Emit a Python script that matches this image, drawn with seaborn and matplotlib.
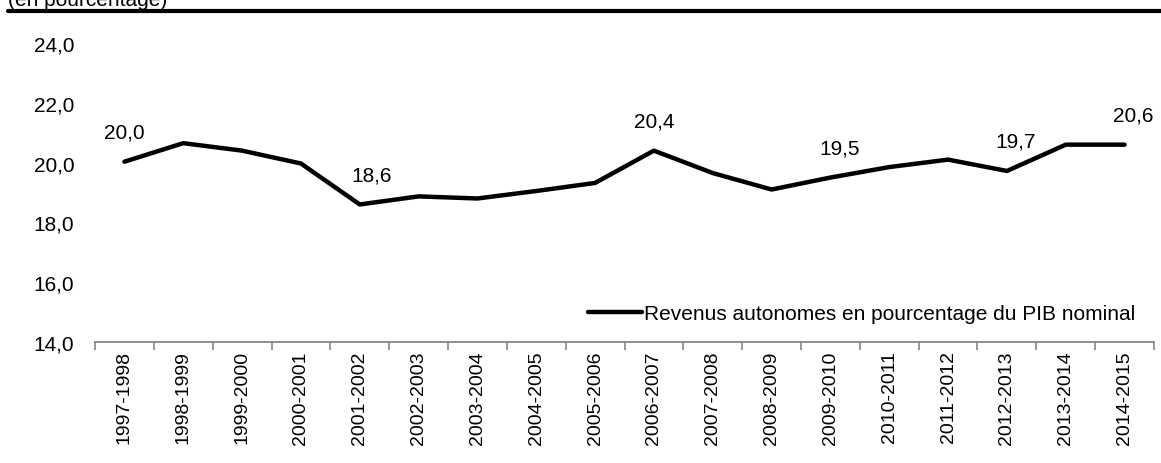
import numpy as np
import pandas as pd
import matplotlib
matplotlib.use("Agg")
import matplotlib.pyplot as plt
import seaborn as sns

years = ["1997-1998", "1998-1999", "1999-2000", "2000-2001", "2001-2002", "2002-2003",
         "2003-2004", "2004-2005", "2005-2006", "2006-2007", "2007-2008", "2008-2009",
         "2009-2010", "2010-2011", "2011-2012", "2012-2013", "2013-2014", "2014-2015"]
revenus = [20.03, 20.65, 20.4, 19.97, 18.6, 18.87, 18.8, 19.05, 19.32, 20.4, 19.65, 19.1,
           19.5, 19.85, 20.1, 19.72, 20.6, 20.6]
labelled = [0, 4, 9, 12, 15, 17]
serie = "Revenus autonomes en pourcentage du PIB nominal"

df = pd.DataFrame({"Année": years, "Valeur": revenus})

sns.set_style("white", {"text.color": "black", "axes.labelcolor": "black",
                        "xtick.color": "black", "ytick.color": "black",
                        "xtick.bottom": True})
plt.rcParams["font.family"] = ["Liberation Sans", "DejaVu Sans"]

fig = plt.figure(figsize=(11.61, 4.64), dpi=100)
ax = fig.add_axes([95 / 1161, 1 - 343 / 464, (1154 - 95) / 1161, (343 - 44) / 464])

sns.lineplot(data=df, x="Année", y="Valeur", color="black", linewidth=3.2,
             label=serie, ax=ax, sort=False)

ax.set_ylim(14, 24)
ax.set_xlim(-0.5, len(years) - 0.5)
ax.set_yticks(np.arange(14, 25, 2))
ax.set_yticklabels([f"{v:.1f}".replace(".", ",") for v in np.arange(14, 25, 2)], fontsize=15)
ax.set_xticks(range(len(years)))
ax.set_xticklabels(years, rotation=90, fontsize=14)
ax.set_xticks(np.arange(-0.5, len(years), 1), minor=True)
ax.tick_params(axis="x", which="major", length=0, pad=6, bottom=True)
ax.tick_params(axis="x", which="minor", length=6, color="#868686", width=1.2,
               direction="out", bottom=True)
ax.tick_params(axis="y", length=0, pad=15)
ax.set_xlabel("")
ax.set_ylabel("")
for s in ["top", "right", "left"]:
    ax.spines[s].set_visible(False)
ax.spines["bottom"].set_color("#868686")
ax.spines["bottom"].set_linewidth(1.3)

offsets = {0: 0, 4: 0.2, 9: 0, 12: 0.15, 15: 0.15, 17: 0.15}
for i in labelled:
    ax.text(i + offsets[i], revenus[i] + 1.0, f"{revenus[i]:.1f}".replace(".", ","),
            ha="center", va="center", fontsize=15, color="black")

leg = ax.legend(loc="lower right", bbox_to_anchor=(1.0, 0.0), frameon=False,
                fontsize=15, handlelength=2.6, handletextpad=0.1)

fig.text(8 / 1161, 1 - 1 / 464, "(en pourcentage)", fontsize=15, ha="left", va="center",
         color="black")
fig.add_artist(plt.Line2D([8 / 1161, 1], [1 - 12 / 464, 1 - 12 / 464], color="black",
                          linewidth=3, transform=fig.transFigure))

fig.savefig("out.png", dpi=100)
